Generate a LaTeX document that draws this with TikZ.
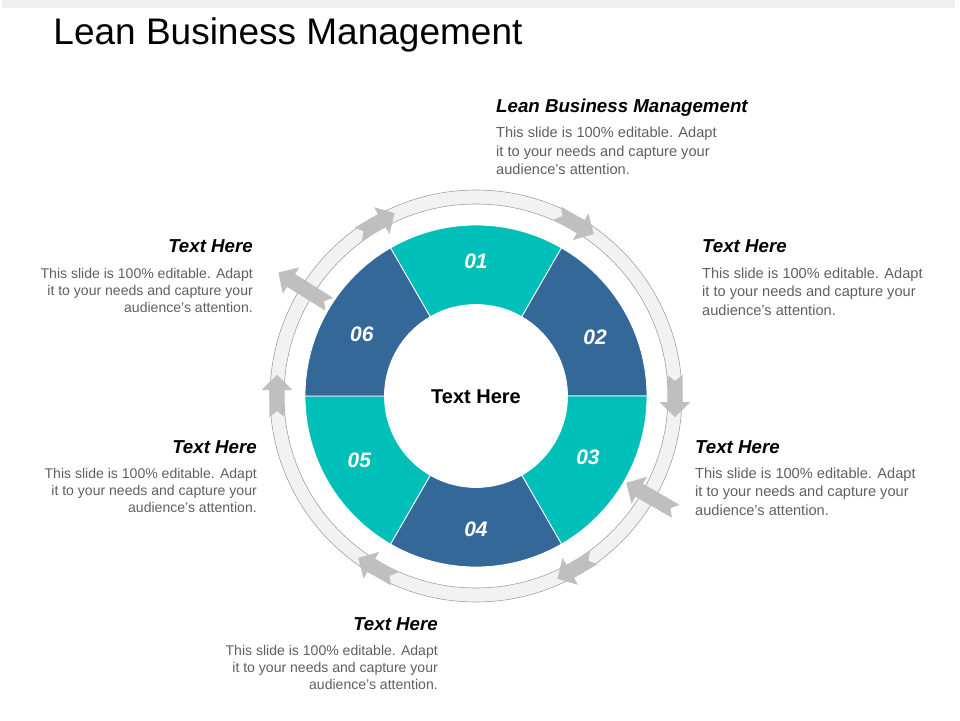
\documentclass[tikz,border=0pt]{standalone}
\usepackage{fontspec}
\setmainfont{Liberation Sans}
\usetikzlibrary{positioning}

\definecolor{segteal}{RGB}{0,191,184}
\definecolor{segblue}{RGB}{52,104,153}
\definecolor{ringfill}{RGB}{242,242,242}
\definecolor{ringline}{RGB}{160,160,160}
\definecolor{arrowgray}{RGB}{191,191,191}
\definecolor{bodygray}{RGB}{95,95,95}
\definecolor{barfill}{RGB}{240,240,240}

\tikzset{
  headtext/.style={inner sep=0pt, font=\bfseries\itshape\fontsize{18.7}{22}\selectfont},
  bodyleft/.style={inner sep=0pt, text=bodygray, align=left, font=\fontsize{14.6}{18.3}\selectfont},
  bodyright/.style={inner sep=0pt, text=bodygray, align=right, font=\fontsize{14.05}{17.2}\selectfont},
  numtext/.style={inner sep=0pt, text=white, font=\bfseries\itshape\fontsize{21}{25}\selectfont},
  pics/ringarrow/.style={code={
    \fill[arrowgray] (-#1/2,7.5) -- (#1/2-15,7.5) -- (#1/2-15,15.5) -- (#1/2,0)
      -- (#1/2-15,-15.5) -- (#1/2-15,-7.5) -- (-#1/2,-7.5) -- (-#1/2+6,0) -- cycle;}}
}

\begin{document}
\begin{tikzpicture}[x=1pt, y=1pt]
  \useasboundingbox (-476,-324) rectangle (484,396);
  \fill[barfill] (-474,387.7) rectangle (479,396);
  \node[anchor=base west, inner sep=0pt, font=\fontsize{37}{44}\selectfont] (title) at (-422.7,351) {Lean Business Management};

  % outer ring
  \draw[ringline, fill=ringfill, line width=0.6pt, even odd rule] (0,0) circle (206) (0,0) circle (192);

  % six segments
  \foreach \a/\c in {60/segteal, 0/segblue, -60/segteal, 240/segblue, 180/segteal, 120/segblue}
    \draw[white, line width=0.8pt, fill=\c] (\a:171) arc[start angle=\a, end angle=\a+60, radius=171]
      -- (\a+60:91.5) arc[start angle=\a+60, end angle=\a, radius=91.5] -- cycle;

  \foreach \a/\r/\n in {90/135/01, 26.4/133/02, -28.6/127.5/03, -90/133/04, 208.7/133/05, 151.5/130/06}
    \node[numtext] (num\n) at (\a:\r) {\n};
  \node[inner sep=0pt, font=\bfseries\fontsize{20}{24}\selectfont] (hub) at (0,-1) {Text Here};

  % arrows on the ring
  \foreach \a in {120, 60, 0, -60, -120, 180}
    \pic[rotate=\a-90] at (\a:199) {ringarrow=42};
  \pic[rotate=148] at (148:203) {ringarrow=60};
  \pic[rotate=150] at (-30:202) {ringarrow=57};

  % text blocks
  \foreach \px/\py/\sd/\bs/\hd [count=\i] in {
      20/283.7/west/bodyleft/{Lean Business Management},
      226/143/west/bodyleft/{Text Here},
      219/-57/west/bodyleft/{Text Here},
      -38/-234/east/bodyright/{Text Here},
      -219/-57/east/bodyright/{Text Here},
      -223/143/east/bodyright/{Text Here}}{
    \node[headtext, anchor=base \sd] (head\i) at (\px,\py) {\hd};
    \node[\bs, below=14.8pt of head\i.base \sd, anchor=north \sd] (body\i)
      {This slide is 100\% editable. Adapt\\it to your needs and capture your\\audience's attention.};
  }
\end{tikzpicture}
\end{document}
